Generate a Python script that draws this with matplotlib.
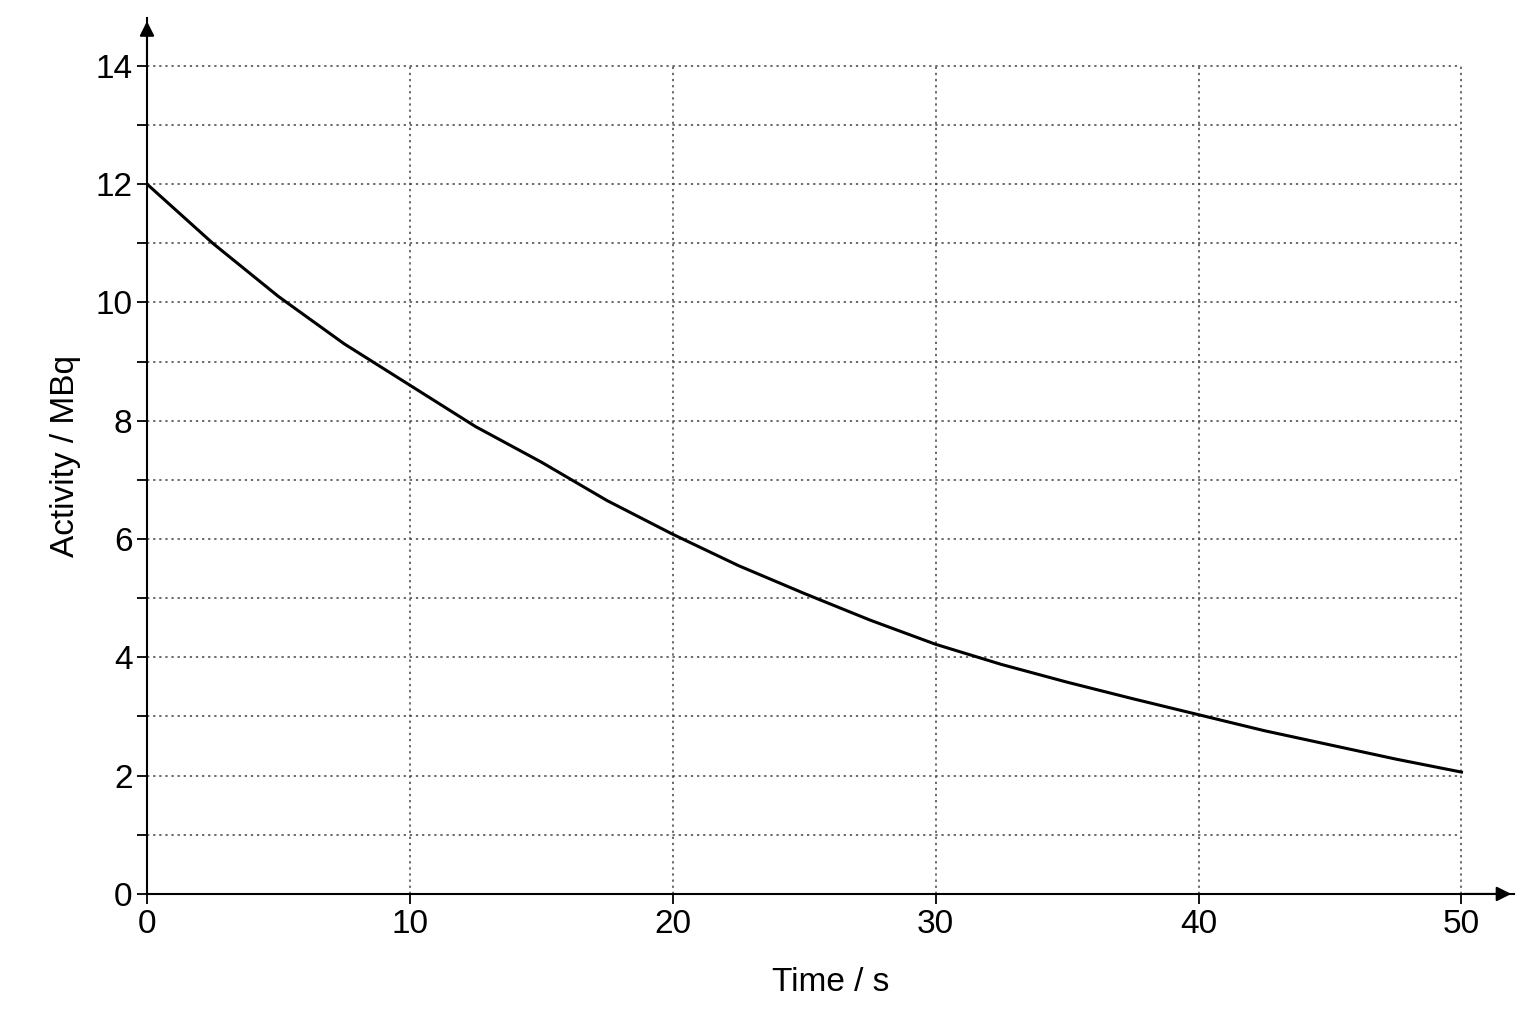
import matplotlib
matplotlib.use("Agg")
import matplotlib.pyplot as plt

plt.rcParams['font.family'] = ['Liberation Sans', 'DejaVu Sans']

time_s = [0, 2.5, 5, 7.5, 10, 12.5, 15, 17.5, 20, 22.5, 25, 27.5, 30, 32.5, 35, 37.5, 40, 42.5, 45, 47.5, 50]
activity = [12.0, 11.0, 10.1, 9.3, 8.6, 7.9, 7.3, 6.65, 6.08, 5.55, 5.08, 4.63, 4.22, 3.88, 3.58, 3.3, 3.03, 2.76, 2.52, 2.28, 2.06]
xticks = [0, 10, 20, 30, 40, 50]
yticks = [0, 2, 4, 6, 8, 10, 12, 14]

fig = plt.figure(figsize=(15.36, 10.24), dpi=100)
ax = fig.add_axes([0.0957, 0.127, 0.89, 0.855])
ax.set_xlim(0, 52)
ax.set_ylim(0, 14.8)
for s in ["top", "right"]:
    ax.spines[s].set_visible(False)
for s in ["left", "bottom"]:
    ax.spines[s].set_linewidth(1.5)

for y in range(1, 15):
    ax.plot([0, 50], [y, y], color="#444", lw=1.1, ls=(0, (1.5, 2.5)), zorder=1)
for x in xticks[1:]:
    ax.plot([x, x], [0, 14], color="#444", lw=1.1, ls=(0, (1.5, 2.5)), zorder=1)

ax.plot(time_s, activity, color="black", lw=2.2, zorder=3)

ax.annotate("", xy=(52, 0), xytext=(50, 0), arrowprops=dict(arrowstyle="-|>", lw=1.5, color="black", mutation_scale=22), annotation_clip=False)
ax.annotate("", xy=(0, 14.8), xytext=(0, 14), arrowprops=dict(arrowstyle="-|>", lw=1.5, color="black", mutation_scale=22), annotation_clip=False)

ax.set_xticks(xticks)
ax.set_yticks(yticks)
ax.set_yticks(range(1, 15, 2), minor=True)
ax.tick_params(axis="both", labelsize=24, length=7, width=1.3)
ax.tick_params(axis="y", which="minor", length=7, width=1.3)
ax.set_xlabel("Time / s", fontsize=24, labelpad=20)
ax.set_ylabel("Activity / MBq", fontsize=24, labelpad=10)
fig.savefig("out.png", dpi=100)
